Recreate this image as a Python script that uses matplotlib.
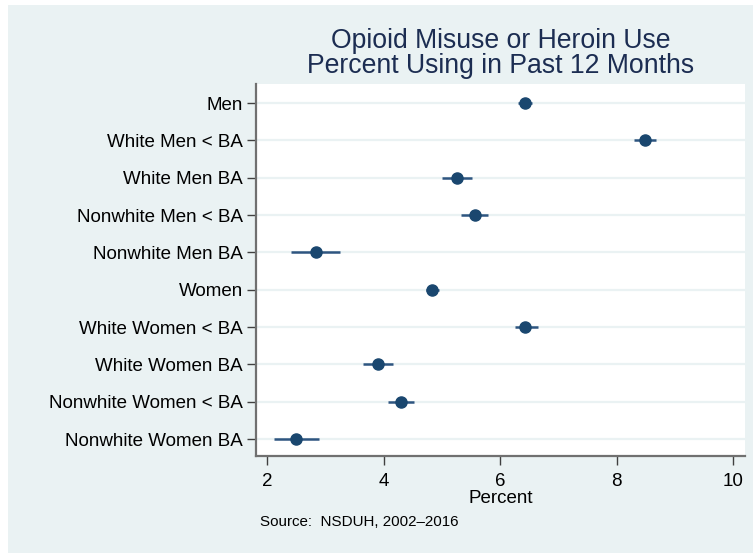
import matplotlib
matplotlib.use("Agg")
import matplotlib.pyplot as plt
from matplotlib.patches import Rectangle

plt.rcParams['font.family'] = ['Liberation Sans', 'DejaVu Sans']

groups = ["Men", "White Men < BA", "White Men BA", "Nonwhite Men < BA",
          "Nonwhite Men BA", "Women", "White Women < BA", "White Women BA",
          "Nonwhite Women < BA", "Nonwhite Women BA"]
estimate = [6.43, 8.49, 5.26, 5.56, 2.83, 4.83, 6.43, 3.90, 4.30, 2.50]
ci_low = [6.31, 8.30, 5.00, 5.32, 2.40, 4.73, 6.25, 3.65, 4.07, 2.12]
ci_high = [6.54, 8.68, 5.52, 5.79, 3.25, 4.95, 6.64, 4.15, 4.52, 2.88]
xticks = [2, 4, 6, 8, 10]

bg = "#EAF2F3"
navy = "#1a476f"

fig = plt.figure(figsize=(7.53, 5.53), dpi=100)
fig.patch.set_facecolor("white")
fig.add_artist(Rectangle((8 / 753, 0), 1, 1 - 5 / 553, transform=fig.transFigure,
                         facecolor=bg, edgecolor="none", zorder=-10))

ax = fig.add_axes([256 / 753, 1 - 456 / 553, (745 - 256) / 753, (456 - 84) / 553])
ax.set_facecolor("white")

ypos = list(range(len(groups)))
for y in ypos:
    ax.axhline(y, color=bg, lw=1.6, zorder=0)

ax.hlines(ypos, ci_low, ci_high, color="#2e5580", lw=1.8, zorder=2)
ax.plot(estimate, ypos, "o", color=navy, markersize=8, zorder=3)

ax.set_xlim(1.805, 10.2)
ax.set_ylim(len(groups) - 1 + 0.45, -0.51)
ax.set_yticks(ypos)
ax.set_yticklabels(groups)
ax.set_xticks(xticks)
ax.set_xticklabels([str(t) for t in xticks])

for side in ("top", "right"):
    ax.spines[side].set_visible(False)
for side in ("left", "bottom"):
    ax.spines[side].set_color("#707070")
    ax.spines[side].set_linewidth(1.6)

ax.tick_params(axis="both", length=6.5, width=1.0, color="#404040",
               labelsize=13.5, labelcolor="black")
ax.tick_params(axis="y", pad=3)
ax.tick_params(axis="x", pad=5.5)
ax.set_xlabel("Percent", fontsize=13.5, labelpad=0.5)

# two-line title, tight line spacing
fig.text(500.5 / 753, 1 - 73 / 553,
         "Opioid Misuse or Heroin Use\nPercent Using in Past 12 Months",
         ha="center", va="baseline", multialignment="center",
         fontsize=19.2, linespacing=0.93, color="#1c2d52")
fig.text(260 / 753, 1 - 522.5 / 553, "Source:  NSDUH, 2002\u20132016",
         ha="left", va="center", fontsize=10.9, color="black")

fig.savefig("out.png", dpi=100, facecolor=fig.get_facecolor())
